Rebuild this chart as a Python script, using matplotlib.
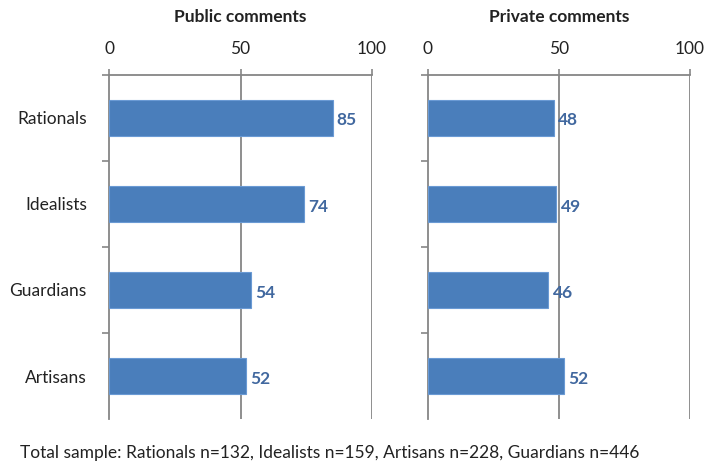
import matplotlib.pyplot as plt

plt.rcParams['font.family'] = ['Lato', 'DejaVu Sans']

groups = ['Rationals', 'Idealists', 'Guardians', 'Artisans']
public_pct = [85, 74, 54, 52]
private_pct = [48, 49, 46, 52]
panel_titles = ['Public comments', 'Private comments']
footnote = 'Total sample: Rationals n=132, Idealists n=159, Artisans n=228, Guardians n=446'

bar_color = '#4a7ebb'
edge_color = '#6a9ad4'
label_color = '#41689f'
grid_color = '#868686'
text_color = '#222222'
fs = 12.5

fig = plt.figure(figsize=(7.08, 4.74), dpi=100)
ax_pub = fig.add_axes([0.154, 0.116, 0.3715, 0.726])
ax_priv = fig.add_axes([0.6045, 0.116, 0.370, 0.726])

for ax, vals, title in [(ax_pub, public_pct, panel_titles[0]),
                        (ax_priv, private_pct, panel_titles[1])]:
    pos = list(range(len(groups)))
    ax.barh(pos, vals, height=0.42, color=bar_color, edgecolor=edge_color,
            linewidth=0.8, zorder=3)
    for p, v in zip(pos, vals):
        ax.text(v + 1.6, p + 0.03, str(v), va='center', ha='left', fontsize=fs,
                fontweight='bold', color=label_color)

    ax.set_xlim(0, 100)
    ax.set_ylim(len(groups) - 0.5, -0.5)
    ax.xaxis.tick_top()
    ax.set_xticks([0, 50, 100])
    ax.tick_params(axis='x', direction='out', length=4, width=1.2,
                   color=grid_color, labelsize=fs, pad=9, labelcolor=text_color)
    for x in [50, 100]:
        ax.axvline(x, color=grid_color, linewidth=1.3, zorder=1)

    # category ticks sit between the groups (none at the very bottom)
    ax.set_yticks([i - 0.5 for i in range(len(groups))], minor=False)
    ax.set_yticklabels([])
    ax.set_yticks(pos, minor=True)
    ax.set_yticklabels(groups if ax is ax_pub else [], minor=True)
    ax.tick_params(axis='y', which='major', direction='out', length=5,
                   width=1.2, color=grid_color)
    ax.tick_params(axis='y', which='minor', length=0, labelsize=fs, pad=16,
                   labelcolor=text_color)

    for side in ['right', 'bottom']:
        ax.spines[side].set_visible(False)
    for side in ['left', 'top']:
        ax.spines[side].set_color(grid_color)
        ax.spines[side].set_linewidth(1.3)

    ax.set_title(title, fontsize=fs, fontweight='bold', color=text_color, pad=38)

fig.text(0.028, 0.044, footnote, fontsize=fs, color=text_color, va='center')

fig.savefig('out.png', dpi=100)
